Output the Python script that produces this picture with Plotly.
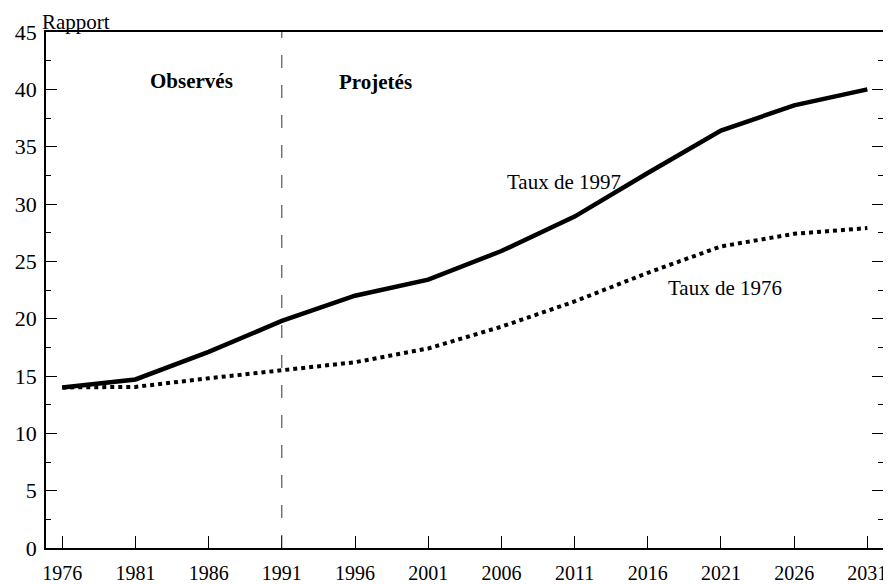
import plotly.graph_objects as go

years = [1976, 1981, 1986, 1991, 1996, 2001, 2006, 2011, 2016, 2021, 2026, 2031]
taux_1997 = [14.0, 14.7, 17.1, 19.8, 22.0, 23.4, 25.9, 28.9, 32.7, 36.4, 38.6, 40.0]
taux_1976 = [14.0, 14.05, 14.8, 15.5, 16.2, 17.4, 19.3, 21.5, 24.0, 26.3, 27.4, 27.9]
divider_year = 1991
x_tick_vals = years
y_tick_vals = [0, 5, 10, 15, 20, 25, 30, 35, 40, 45]

FONT = "Liberation Serif"

fig = go.Figure()
fig.add_trace(go.Scatter(x=years, y=taux_1997, mode="lines",
                         line=dict(color="black", width=4.5), name="Taux de 1997"))
fig.add_trace(go.Scatter(x=years, y=taux_1976, mode="lines",
                         line=dict(color="black", width=4, dash="dot"), name="Taux de 1976"))

fig.add_shape(type="line", x0=divider_year, x1=divider_year, y0=0, y1=45,
              xref="x", yref="y", line=dict(color="#333", width=1, dash="13px,17px"))

annots = [
    dict(text="<b>Observés</b>", x=1984.8, y=40.7),
    dict(text="<b>Projetés</b>", x=1997.4, y=40.6),
    dict(text="Taux de 1997", x=2010.3, y=31.9),
    dict(text="Taux de 1976", x=2021.3, y=22.7),
]
for a in annots:
    fig.add_annotation(text=a["text"], x=a["x"], y=a["y"], xref="x", yref="y",
                       showarrow=False, font=dict(family=FONT, size=21, color="black"))
fig.add_annotation(text="Rapport", xref="paper", yref="paper", x=0, y=1,
                   xanchor="left", yanchor="bottom", xshift=-6, yshift=-4, showarrow=False,
                   font=dict(family=FONT, size=21, color="black"))

fig.update_layout(
    width=883, height=576,
    margin=dict(l=38, r=8, t=24, b=36, autoexpand=False),
    paper_bgcolor="white", plot_bgcolor="white",
    showlegend=False,
    font=dict(family=FONT, size=21, color="black"),
    xaxis=dict(range=[1974.89, 2032.07], tickvals=x_tick_vals, ticks="inside", ticklen=12,
               tickwidth=1, tickcolor="black", showline=True, linecolor="black", linewidth=1.5,
               mirror=True, showgrid=False, zeroline=False, ticklabelstandoff=6, automargin=False,
               tickfont=dict(family=FONT, size=20, color="black")),
    yaxis=dict(range=[0, 45], tickvals=y_tick_vals, ticks="inside", ticklen=11,
               tickwidth=1, tickcolor="black", showline=True, linecolor="black", linewidth=1.5,
               mirror="ticks", showgrid=False, zeroline=False, ticklabelstandoff=3, automargin=False,
               minor=dict(dtick=2.5, ticks="inside", ticklen=5, tickcolor="black", showgrid=False),
               tickfont=dict(family=FONT, size=22, color="black")),
)

fig.write_html("out.html")
